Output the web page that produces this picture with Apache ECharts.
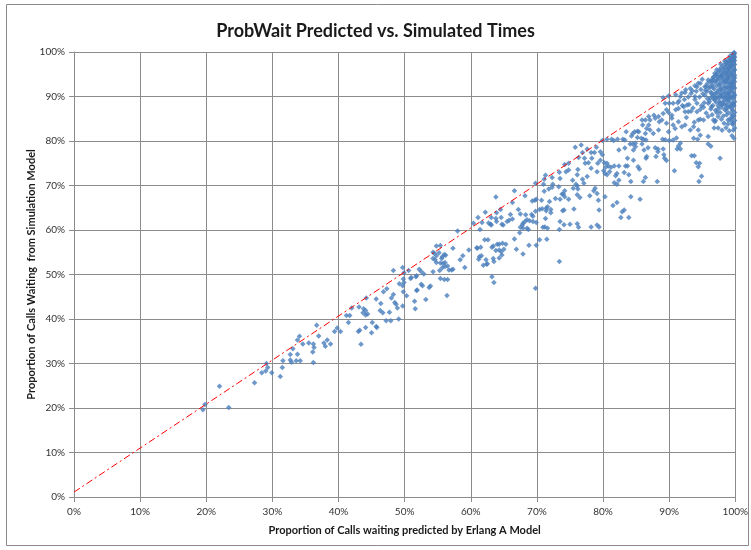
<!DOCTYPE html>
<html>
<head>
<meta charset="utf-8">
<title>ProbWait Predicted vs. Simulated Times</title>
<script src="https://cdn.jsdelivr.net/npm/echarts@6/dist/echarts.min.js"></script>
<style>
  html, body { margin: 0; padding: 0; background: #fff; }
  #chart { width: 751px; height: 550px; }
</style>
</head>
<body>
<div id="chart"></div>
<script>
// percent values: [predicted by Erlang A, simulated]
const lowPoints = [
  [19.5,19.6],[19.8,20.8],[22.0,24.9],[23.4,20.1],[27.3,25.7],[28.4,27.9],[29.0,28.3],[29.3,29.1],
  [29.1,30.0],[29.9,27.9],[31.2,27.1],[31.5,29.1],[31.6,30.6],[32.7,32.0],[32.7,30.8],[32.9,30.3],
  [33.6,30.6],[34.2,30.6],[33.1,33.3],[33.8,35.3],[34.1,36.1],[33.8,32.1],[34.6,34.4],[35.5,34.6],
  [36.2,34.4],[36.3,33.6],[36.1,32.6],[36.2,30.2],[36.7,38.6],[37.0,36.2],[37.8,34.6],[38.0,33.9],
  [38.3,35.3],[38.8,34.4],[39.4,37.2],[39.8,38.0],[40.3,37.2],[41.2,40.8],[41.7,40.8],[41.5,39.2],
  [42.0,42.5],[43.1,42.7],[43.8,42.3],[43.7,41.4],[44.1,40.9],[44.4,41.1],[44.1,41.9],[44.2,44.7],
  [43.0,37.2],[43.2,37.5],[43.4,34.3],[44.1,38.1],[45.0,36.9],[45.1,39.2],[45.7,38.3],[45.8,38.1],
  [45.7,44.5],[46.4,43.5],[46.3,41.9],[46.7,41.4],[47.2,39.6],[47.9,39.6],[47.7,41.5],[48.0,44.7],
  [46.8,46.1],[47.3,46.8],[48.3,45.5],[48.5,43.7],[48.7,43.3],[48.9,42.5],[49.1,40.0],[49.7,42.9],
  [48.3,50.9],[49.2,47.9],[49.8,49.0],[49.7,47.5],[49.8,46.1],[50.3,45.2],[49.9,48.2],[50.6,50.9],
  [51.0,49.3],[51.8,49.7],[51.5,44.0],[51.6,42.3],[51.9,46.5],[49.7,51.6],[49.9,50.4]
];

const midPoints = [
  [50.9,49.1],[51.7,49.5],[52.2,51.2],[52.5,50.7],[52.9,50.1],[52.5,47.8],[52.7,47.5],[51.8,46.4],
  [53.2,44.4],[53.7,47.1],[53.9,47.4],[54.3,53.6],[54.5,54.8],[54.8,56.4],[54.8,54.2],[55.2,54.9],
  [55.4,56.5],[55.6,53.6],[55.8,52.5],[55.7,54.0],[56.0,54.5],[56.2,54.3],[56.1,51.8],[56.5,51.9],
  [56.7,51.0],[57.1,51.0],[57.3,55.9],[55.3,50.9],[55.4,49.1],[56.0,48.9],[56.5,48.9],[56.4,45.3],
  [54.3,50.6],[54.8,52.7],[55.4,52.6],[58.0,59.8],[58.8,54.2],[59.1,51.6],[58.4,53.3],[59.7,55.5],
  [61.0,55.9],[61.5,56.1],[61.3,54.0],[61.2,53.4],[61.9,52.1],[62.4,52.3],[62.1,57.8],[62.6,57.8],
  [54.3,55.0],[54.6,53.3],[55.7,51.5],[56.1,52.7],[57.3,51.2],[61.6,54.2],[63.2,56.1],[64.7,54.4],
  [64.8,57.0],[68.8,56.6],[73.4,52.9],[63.2,49.5],[63.5,48.2],[69.8,46.9]
];

const upperPoints = [
  [66.6,68.8],[68.2,67.7],[69.8,70.5],[69.3,66.5],[69.7,66.7],[69.9,66.9],[66.3,66.2],[67.2,64.6],
  [67.5,63.6],[68.3,63.4],[68.2,61.9],[68.5,62.3],[69.2,63.5],[69.4,63.1],[68.9,62.1],[69.4,61.9],
  [69.9,61.7],[69.8,64.2],[67.4,59.4],[67.9,60.4],[66.6,58.0],[66.9,55.7],[67.9,54.6],[68.7,60.1],
  [63.9,63.9],[63.9,61.9],[64.6,62.8],[64.7,61.3],[65.8,62.2],[65.5,61.9],[63.8,67.4],[64.5,64.6],
  [62.2,64.0],[61.1,62.8],[61.7,61.7],[61.4,60.1],[63.0,61.3],[63.1,62.8],[60.4,61.5],[64.0,56.8],
  [64.3,56.8],[63.4,56.4],[63.8,55.4],[64.3,55.5],[65.0,55.7],[65.3,56.8],[60.9,56.0],[62.3,53.3],
  [62.5,52.4],[63.4,53.6],[63.5,52.9],[64.3,53.7],[64.6,55.1],[62.7,61.6],[63.1,61.1],[63.8,62.6],
  [64.9,61.1],[66.0,63.5],[66.3,62.5],[67.5,60.6],[67.8,61.1],[67.9,61.5],[68.5,60.4],
  [83.5,82.1],[84.8,82.1],[85.2,82.2],[85.2,80.8],[84.3,81.1],[79.9,80.1],[80.6,80.4],[81.3,80.4],
  [81.6,80.1],[82.2,80.4],[83.0,80.4],[83.3,80.2],[84.1,79.3],[84.5,79.3],[84.9,79.5],[82.4,78.0],
  [83.3,78.4],[79.0,78.6],[79.6,77.6],[79.9,76.9],[79.6,75.7],[78.2,77.4],[78.7,77.4],[79.2,75.0],
  [78.3,76.1],[77.8,75.1],[77.3,75.0],[77.2,76.1],[76.9,77.4],[76.3,76.3],[75.8,78.6],[76.7,79.1],
  [77.6,78.2],[78.2,73.9],[77.6,72.0],[76.9,71.4],[77.1,70.5],[76.2,73.6],[76.2,69.2],[75.4,71.2],
  [75.9,70.3],[74.2,74.7],[74.8,73.5],[74.4,73.1],[73.4,73.0],[73.5,71.6],[72.4,70.3],[71.3,72.3],
  [71.1,71.4],[72.3,69.6],[71.8,69.2],[71.0,70.3],[71.1,68.7],[80.2,75.1],[80.6,75.0],[80.8,74.4],
  [80.4,74.1],[80.1,73.3],[80.3,72.7],[80.6,72.4],[81.0,73.1],[81.2,74.1],[81.7,74.4],[82.4,74.4],
  [82.1,72.7],[81.9,72.2],[81.7,70.6],[82.1,70.3],[82.4,71.2],[83.4,74.4],[83.7,74.4],[83.9,72.4],
  [83.2,72.9],[83.7,76.1],[84.6,75.7],[70.7,66.7],[70.8,64.8],[71.4,64.3],[71.9,66.4],[72.1,64.6],
  [72.1,63.9],[71.3,62.6],[71.2,60.7],[70.9,60.6],[71.6,60.4],[73.5,66.9],[73.8,68.1],[74.0,68.1],
  [74.2,67.5],[74.1,64.5],[73.9,64.3],[74.8,66.9],[75.5,69.4],[76.1,69.9],[76.1,67.9],[76.5,67.3],
  [75.6,64.7],[73.5,61.9],[74.1,61.2],[75.0,61.3],[76.1,61.4],[76.3,60.6],[78.0,67.7],[78.6,68.8],
  [78.8,69.4],[79.1,68.2],[79.3,66.7],[79.4,64.5],[79.1,61.1],[79.4,60.7],[78.2,60.7],[80.3,67.5],
  [82.1,66.2],[81.5,65.5],[83.2,64.5],[82.9,64.1],[82.7,62.8],[83.9,62.8],[70.4,57.8],[71.5,57.9],
  [69.9,56.6],[73.4,60.1],[72.3,71.8],[72.8,67.1],[73.3,69.7],[74.2,68.8],[74.8,75.0],[76.1,72.4],
  [79.1,73.1],[85.6,66.9],[84.2,67.5],[84.2,70.9],[70.4,64.6],[71.4,64.9],[71.6,65.2]
];

const highPoints = [
  [84.9,78.7],[84.6,78.0],[86.1,80.4],[86.5,80.2],[85.9,79.3],[86.2,78.0],[86.8,78.5],[87.9,78.5],
  [88.3,78.2],[88.3,77.6],[89.1,78.2],[89.2,76.9],[89.3,76.1],[89.6,75.6],[88.0,76.5],[86.6,76.5],
  [86.5,76.1],[85.3,74.2],[85.5,73.7],[86.4,71.8],[86.1,70.9],[88.2,70.9],[90.8,73.3],[91.4,78.9],
  [91.2,78.2],[91.7,78.2],[93.4,76.7],[93.8,76.7],[94.1,75.1],[94.6,75.0],[94.4,74.2],[94.9,72.1],
  [94.5,70.9],[95.9,79.3],[97.7,76.1],[89.0,80.4],[89.4,80.3],[90.0,80.1],[96.3,78.8],[96.8,82.9],
  [97.4,82.9],[98.9,84.7],[98.3,84.0],[99.7,84.0],
  [89.1,89.7],[89.9,90.1],[89.4,88.5],[90.0,88.5],[90.6,88.5],[91.3,88.6],[91.4,87.3],[92.2,87.7],
  [92.4,86.6],[92.9,86.6],[93.3,86.7],[92.7,88.1],[91.7,90.0],[92.4,90.9],[93.3,90.7],[93.9,90.0],
  [94.2,88.5],[94.7,87.1],[95.2,87.6],[95.9,88.5],[96.4,87.7],[94.4,84.7],[94.7,84.9],[95.2,84.7],
  [95.9,85.5],[96.7,84.7],[96.9,84.3],[97.4,85.5],[97.2,86.4],[98.4,87.0],[98.7,88.1],[99.2,87.7],
  [99.7,88.1],[98.9,90.7],[98.4,89.8],[95.4,90.3],[96.2,89.6],[93.2,91.8],[94.2,92.2],[94.7,93.0],
  [95.4,92.2],[95.9,93.7],[96.4,93.3],[96.7,94.4],[97.2,96.0],[97.9,94.8],[98.4,93.3],[98.9,94.1],
  [99.5,92.2],[99.9,90.3],[88.9,84.7],[89.6,84.0],[90.4,85.1],[90.6,83.6],[90.9,82.8],[91.4,84.3],
  [91.9,83.2],[92.4,83.6],[93.2,82.5],[93.7,83.2],[94.4,82.5],[94.7,81.3],[95.9,81.0],[93.7,80.6],
  [94.3,80.4],[90.6,80.2],[91.1,80.7],[91.7,79.5],[89.9,82.1],[88.4,82.5],[87.6,81.7],[87.1,82.5],
  [86.9,83.6],[86.4,84.7],[86.0,83.6],[85.4,82.1],[84.5,81.7],[87.7,85.8],[87.9,85.1],[88.5,84.3],
  [89.1,86.2],[89.6,87.0],[89.9,86.4],[90.4,85.8],[88.4,85.5],[86.9,85.5],[87.1,84.7],[85.9,84.7],
  [86.6,82.8],[86.4,81.7],[85.8,80.6]
];

const cornerPoints = [
  [99.9,99.7],[99.8,99.3],[99.6,99.5],[99.9,98.9],[99.5,98.8],[99.7,98.4],[99.2,98.6],[99.9,98.1],
  [99.4,97.9],[98.9,98.2],[99.7,97.6],[99.1,97.5],[98.6,97.7],[99.9,97.2],[99.4,97.0],[98.8,96.9],
  [98.3,97.1],[99.7,96.6],[99.1,96.4],[98.5,96.5],[97.9,96.6],[99.9,96.0],[99.4,95.9],[98.8,95.8],
  [98.2,95.7],[97.6,96.0],[99.7,95.4],[99.2,95.2],[98.6,95.1],[98.0,95.0],[97.3,95.3],[99.9,94.8],
  [99.5,94.6],[98.9,94.5],[98.3,94.3],[97.7,94.4],[97.0,94.7],[99.7,94.0],[99.1,93.8],[98.6,93.7],
  [97.9,93.6],[97.3,93.8],[96.6,94.1],[99.9,93.3],[99.4,93.1],[98.8,92.9],[98.2,92.9],[97.6,93.0],
  [96.9,93.2],[96.2,93.5],[99.7,92.6],[99.2,92.3],[98.5,92.2],[97.9,92.1],[97.2,92.4],[96.5,92.6],
  [95.8,92.9],[99.9,91.9],[99.4,91.6],[98.8,91.5],[98.1,91.3],[97.5,91.5],[96.8,91.7],[96.0,91.9],
  [99.7,91.0],[99.1,90.8],[98.4,90.6],[97.8,90.7],[97.1,90.8],[96.3,91.0],[95.5,91.4],[99.3,90.1],
  [98.7,89.9],[98.0,89.8],[97.3,89.9],[96.6,90.1],[99.6,89.5],[99.0,89.2],[98.3,89.0],[97.6,88.9],
  [96.9,89.2],[99.9,88.8],[99.4,88.5],[98.0,88.1],[97.4,87.9],[99.8,87.9],[98.6,87.3],[99.6,86.9],
  [99.9,86.4],[99.3,86.2],[98.8,86.6],[99.8,85.7],[99.5,85.1],[99.9,84.6],[99.6,83.7],[99.9,82.9],
  [95.0,93.9],[94.4,93.0],[95.6,92.3],[94.8,91.6],[93.9,92.4],[94.1,91.2],[93.5,91.3],[95.1,90.6],
  [94.6,89.9],[93.9,89.3],[95.8,89.5],[96.1,88.9],[95.3,88.6],[94.9,87.9],[96.6,88.0],[96.3,87.2],
  [97.0,86.9],[97.7,86.4],[98.2,85.6],[97.9,84.9],[96.5,85.9],[95.6,86.3],[94.2,86.6],[93.6,87.4],
  [93.0,88.2],[92.3,89.3],[92.0,88.0],[91.5,89.0],[91.0,87.0],[92.6,85.3],[93.8,84.2],[97.0,84.6],
  [98.6,83.0],[99.1,82.3],[99.5,81.2],[98.0,82.4],[99.8,80.6],[97.7,90.3],[96.9,95.2],[98.4,98.0],
  [97.8,97.3],[99.2,99.1],[91.0,90.4],[91.9,90.8],[92.5,91.5],[92.9,89.9],[99.8,99.9],[99.6,98.1],
  [99.3,96.9],[99.0,95.5],[98.7,94.9],[99.6,93.5],[99.3,92.0],[99.8,90.6],[99.5,87.2],[98.9,88.8],
  [99.8,98.7],[99.5,98.3],[99.1,97.9],[98.7,97.4],[98.2,96.3],[97.7,95.6],[97.2,94.9],[96.7,93.7],
  [96.2,92.2],[95.7,91.1],[99.6,97.1],[99.2,96.6],[98.8,96.2],[98.4,95.4],[97.9,94.6],[97.4,94.2],
  [99.8,95.9],[99.5,95.0],[99.1,94.4],[98.7,93.4],[98.2,93.9],[97.6,92.6],[97.1,93.5],[96.6,92.1],
  [99.9,94.2],[99.6,92.9],[99.2,93.0],[98.9,92.1],[98.4,91.9],[97.8,91.6],[97.3,91.0],[96.8,90.5],
  [99.7,92.0],[99.3,91.2],[98.9,90.3],[98.5,90.9],[98.0,90.2],[97.5,89.6],[97.0,89.7],[96.4,90.6],
  [99.8,89.9],[99.4,89.8],[99.1,89.6],[98.6,89.4],[98.1,88.6],[97.7,88.4],[97.1,88.7],[96.7,89.5],
  [99.7,88.4],[99.3,87.9],[98.9,87.6],[98.4,88.2],[97.9,87.6],[97.4,87.2],[99.6,85.6],[99.2,85.0],
  [98.7,85.9],[99.4,84.4],[98.9,83.8],[99.7,82.4]
];

const refLineX = [0, 100];
const refLineY = [1.1, 100];

const axisTicks = { min: 0, max: 100, interval: 10 };

const simPoints = [].concat(lowPoints, midPoints, upperPoints, highPoints, cornerPoints);

const fontFamily = "Lato, 'Open Sans', sans-serif";
const gridColor = "#8c8c8c";

function percentAxis(name, nameGap) {
  return {
    type: "value",
    min: axisTicks.min,
    max: axisTicks.max,
    interval: axisTicks.interval,
    name: name,
    nameLocation: "middle",
    nameGap: nameGap,
    nameMoveOverlap: false,
    nameTextStyle: { fontFamily, fontWeight: "bold", fontSize: 11, color: "#1a1a1a" },
    axisLine: { show: true, lineStyle: { color: gridColor, width: 1 } },
    axisTick: { show: true, inside: false, length: 5, lineStyle: { color: gridColor } },
    axisLabel: {
      fontFamily, fontSize: 10, color: "#333",
      formatter: (v) => v + "%",
    },
    splitLine: { show: true, lineStyle: { color: gridColor, width: 1 } },
  };
}

const chart = echarts.init(document.getElementById("chart"), null, { renderer: "canvas" });

const xAxis = percentAxis("Proportion of Calls waiting predicted by Erlang A Model", 28);
xAxis.axisLabel.margin = 10;
const yAxis = percentAxis("Proportion of Calls Waiting  from Simulation Model", 37);
yAxis.nameRotate = 90;
yAxis.axisLabel.margin = 9;

chart.setOption({
  animation: false,
  backgroundColor: "#fff",
  title: {
    text: "ProbWait Predicted vs. Simulated Times",
    left: "center",
    top: 17,
    textStyle: { fontFamily, fontWeight: "bold", fontSize: 18, color: "#1a1a1a" },
  },
  graphic: [{
    type: "rect",
    shape: { x: 6.5, y: 4.5, width: 742, height: 541 },
    style: { fill: "none", stroke: "#8a8a8a", lineWidth: 1 },
    silent: true,
  }],
  grid: { left: 74, right: 14, top: 52, bottom: 53 },
  xAxis: xAxis,
  yAxis: yAxis,
  series: [
    {
      name: "Simulated",
      type: "scatter",
      symbol: "diamond",
      symbolSize: 5.5,
      itemStyle: { color: "#4a7ebb" },
      data: simPoints,
    },
    {
      name: "Reference",
      type: "line",
      showSymbol: false,
      symbol: "none",
      lineStyle: { color: "#ff0000", width: 1, type: [7, 3, 2, 3] },
      data: refLineX.map((x, i) => [x, refLineY[i]]),
    },
  ],
});
</script>
</body>
</html>
